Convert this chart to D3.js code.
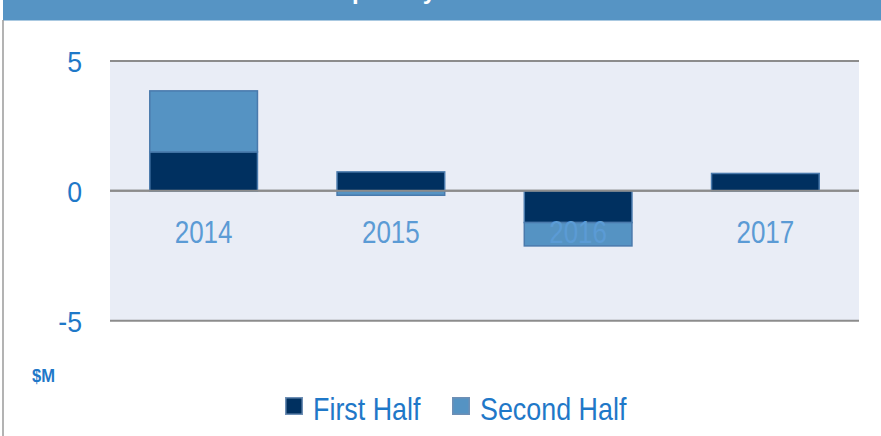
<!DOCTYPE html>
<html>
<head>
<meta charset="utf-8">
<script src="https://cdn.jsdelivr.net/npm/d3@7"></script>
<style>
  html, body { margin: 0; padding: 0; background: #fff; }
  svg { display: block; }
</style>
</head>
<body>
<svg id="chart" width="881" height="436"></svg>
<script>
const titleText = "Impact by Half Year";
const categories = ["2014", "2015", "2016", "2017"];
const seriesNames = ["First Half", "Second Half"];
const firstHalf = [1.50, 0.73, -1.22, 0.67];
const secondHalf = [2.35, -0.17, -0.90, 0.00];
const yTicks = [-5, 0, 5];
const unitLabel = "$M";

const colors = { "First Half": "#003060", "Second Half": "#5593C3" };

const svg = d3.select("#chart");
const W = 881, H = 436;
const plot = { left: 110, right: 859, top: 61, bottom: 320.7 };

const sans = "'Liberation Sans', Arial, sans-serif";
const squeeze = 0.84;

// title banner
svg.append("rect").attr("x", 3).attr("y", 0).attr("width", W - 3).attr("height", 20.5).attr("fill", "#5694C4");
svg.append("text").attr("x", 324).attr("y", -1)
  .attr("fill", "#fff").attr("font-family", sans).attr("font-weight", "bold").attr("font-size", 24)
  .text(titleText);
// left frame
svg.append("line").attr("x1", 3).attr("x2", 3).attr("y1", 20).attr("y2", H)
  .attr("stroke", "#9a9a9a").attr("stroke-width", 1.5);

const x = d3.scaleBand().domain(categories).range([plot.left, plot.right])
  .paddingInner(0.425).paddingOuter(0.2125);
const y = d3.scaleLinear().domain([-5, 5]).range([plot.bottom, plot.top]);

// plot background
svg.append("rect").attr("x", plot.left).attr("y", plot.top)
  .attr("width", plot.right - plot.left).attr("height", plot.bottom - plot.top)
  .attr("fill", "#E9EDF6");

// gridlines
svg.append("g").selectAll("line").data(yTicks).join("line")
  .attr("x1", plot.left).attr("x2", plot.right)
  .attr("y1", d => y(d)).attr("y2", d => y(d))
  .attr("stroke", "#8c8c8c").attr("stroke-width", 2);

// data
const table = categories.map((c, i) => ({ cat: c, "First Half": firstHalf[i], "Second Half": secondHalf[i] }));
const stacked = d3.stack().keys(seriesNames).offset(d3.stackOffsetDiverging)(table);

svg.append("g").selectAll("g").data(stacked).join("g")
  .attr("fill", d => colors[d.key])
  .selectAll("rect").data(d => d.filter(p => p[1] !== p[0])).join("rect")
  .attr("x", d => x(d.data.cat))
  .attr("width", x.bandwidth())
  .attr("y", d => y(Math.max(d[0], d[1])))
  .attr("height", d => Math.abs(y(d[0]) - y(d[1])))
  .attr("stroke", "#4A7AAC").attr("stroke-width", 1.5);

// redraw zero line on top of bars
svg.append("line").attr("x1", plot.left).attr("x2", plot.right)
  .attr("y1", y(0)).attr("y2", y(0)).attr("stroke", "#8c8c8c").attr("stroke-width", 2);

// y axis labels
const yAxis = d3.axisLeft(y).tickValues(yTicks).tickSize(0).tickPadding(0).tickFormat(d3.format("d"));
const ya = svg.append("g").attr("transform", "translate(82,0)").call(yAxis);
ya.select(".domain").remove();
ya.selectAll("text").attr("font-family", sans).attr("font-size", 29).attr("fill", "#1F78C8")
  .attr("dy", "0.36em").text(d => d < 0 ? "-" + Math.abs(d) : d)
  .attr("transform", "scale(0.92,1)");

// category labels
const xAxis = d3.axisBottom(x).tickSize(0).tickPadding(0);
const xa = svg.append("g").attr("transform", "translate(0,243)").call(xAxis);
xa.select(".domain").remove();
xa.selectAll("text").attr("font-family", sans).attr("font-size", 31).attr("fill", "#5B9BD5")
  .attr("dy", 0).attr("y", 0).attr("transform", `scale(${squeeze},1)`);

// unit label
svg.append("text").attr("transform", "translate(32,382) scale(0.92,1)").attr("font-family", sans).attr("font-weight", "bold")
  .attr("font-size", 18).attr("fill", "#1F78C8").text(unitLabel);

// legend
const legendItems = [{ name: seriesNames[0], x: 285 }, { name: seriesNames[1], x: 452 }];
const lg = svg.append("g").selectAll("g").data(legendItems).join("g")
  .attr("transform", d => `translate(${d.x},397)`);
lg.append("rect").attr("x", 0.75).attr("y", 0.75).attr("width", 16.5).attr("height", 16.5)
  .attr("fill", d => colors[d.name]).attr("stroke", "#6E8FB5").attr("stroke-width", 1.5);
lg.append("text").attr("transform", `translate(28,22.5) scale(${squeeze},1)`).attr("font-family", sans).attr("font-size", 32)
  .attr("fill", "#1F78C8").text(d => d.name);
</script>
</body>
</html>
